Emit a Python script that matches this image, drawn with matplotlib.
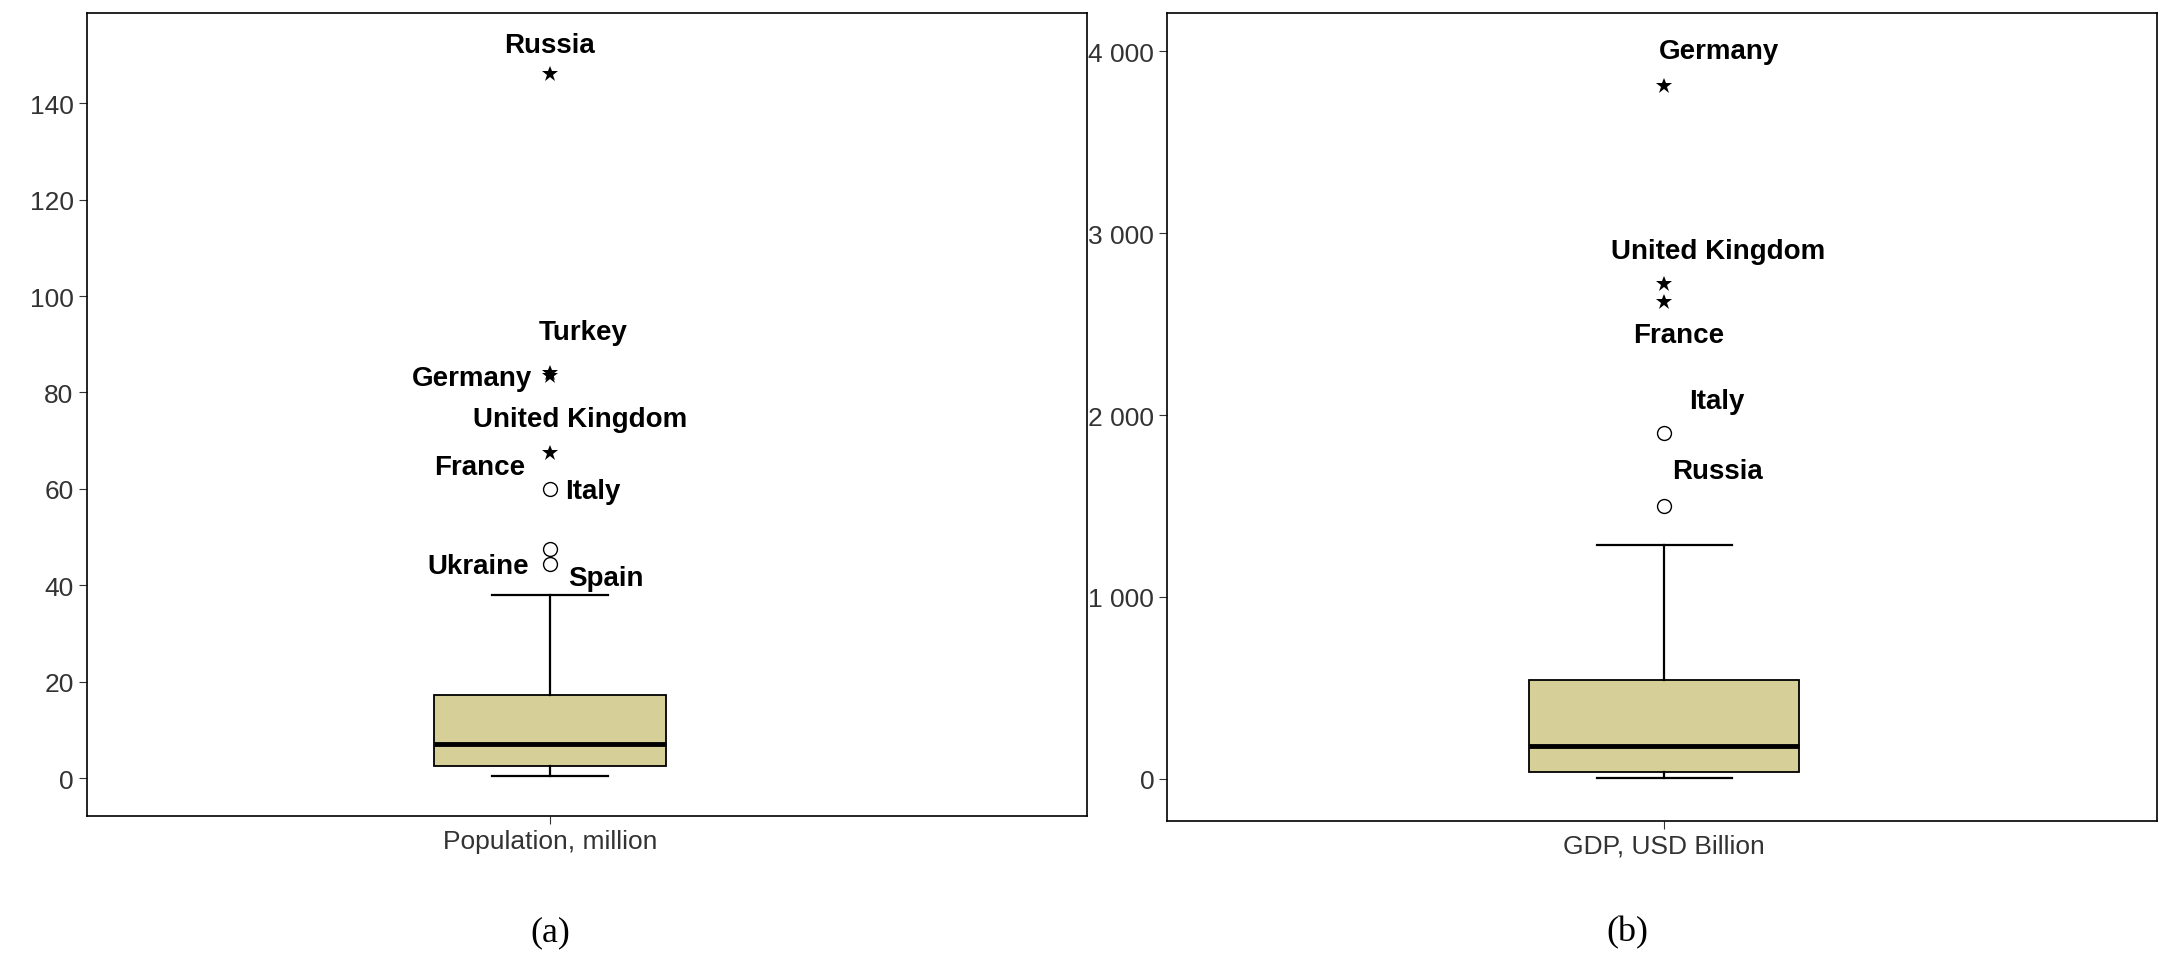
import matplotlib.pyplot as plt
from matplotlib.ticker import FuncFormatter

plt.rcParams['font.family'] = ['Liberation Sans', 'DejaVu Sans']
box_color = "#d6cf98"

# panel (a): population, million
pop_stats = dict(whislo=0.5, q1=2.6, med=7.0, q3=17.3, whishi=38.0, fliers=[])
pop_far = [146, 84, 83.5, 67.5]
pop_near = [60, 47.5, 44.5]
pop_labels = [("Russia", 0.0, 152), ("Turkey", 0.033, 92.5), ("Germany", -0.078, 83),
              ("United Kingdom", 0.03, 74.5), ("France", -0.07, 64.5), ("Italy", 0.043, 59.5),
              ("Ukraine", -0.072, 44), ("Spain", 0.056, 41.5)]

# panel (b): GDP, USD billion
gdp_stats = dict(whislo=5, q1=35, med=180, q3=545, whishi=1285, fliers=[])
gdp_far = [3810, 2720, 2620]
gdp_near = [1900, 1500]
gdp_labels = [("Germany", 0.055, 4000), ("United Kingdom", 0.055, 2900), ("France", 0.015, 2440),
              ("Italy", 0.053, 2080), ("Russia", 0.054, 1690)]

fig = plt.figure(figsize=(21.7, 9.7), dpi=100)
ax1 = fig.add_axes([0.040, 0.158, 0.461, 0.828])
ax2 = fig.add_axes([0.538, 0.153, 0.456, 0.833])

def panel(ax, stats, far, near, labels, width, center, ylim, ticks, xlabel):
    ax.bxp([stats], positions=[1], widths=width, showfliers=False, patch_artist=True,
           boxprops=dict(facecolor=box_color, edgecolor="black", linewidth=1.3),
           medianprops=dict(color="black", linewidth=3.5),
           whiskerprops=dict(color="black", linewidth=1.6),
           capprops=dict(color="black", linewidth=1.6))
    ax.plot([1] * len(far), far, "k*", markersize=12, markeredgewidth=0)
    ax.plot([1] * len(near), near, "o", mfc="white", mec="black", markersize=10)
    for name, dx, y in labels:
        ax.text(1 + dx, y, name, ha="center", va="center", fontsize=20, fontweight="bold")
    ax.set_xlim(1 - center, 2 - center)
    ax.set_ylim(*ylim)
    ax.set_yticks(ticks)
    ax.set_xticks([1])
    ax.set_xticklabels([xlabel])
    ax.tick_params(labelsize=19, colors="#333333", length=6)
    for s in ax.spines.values():
        s.set_linewidth(1.2)

panel(ax1, pop_stats, pop_far, pop_near, pop_labels, 0.231, 0.463,
      (-7.8, 158.8), range(0, 141, 20), "Population, million")
panel(ax2, gdp_stats, gdp_far, gdp_near, gdp_labels, 0.273, 0.502,
      (-230, 4214), range(0, 4001, 1000), "GDP, USD Billion")
ax2.yaxis.set_major_formatter(FuncFormatter(lambda v, p: f"{int(v):,}".replace(",", " ")))

fig.text(0.2535, 0.03, "(a)", ha="center", fontsize=26, family="Liberation Serif")
fig.text(0.750, 0.03, "(b)", ha="center", fontsize=26, family="Liberation Serif")
fig.savefig("out.png", dpi=100)
